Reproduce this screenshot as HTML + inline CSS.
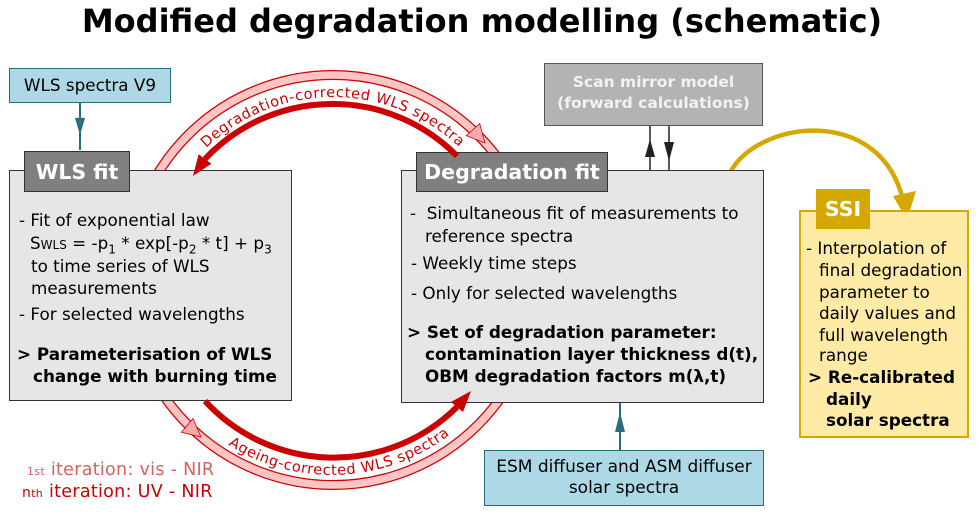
<!DOCTYPE html>
<html><head><meta charset="utf-8">
<style>
*{margin:0;padding:0;box-sizing:border-box}
body{width:978px;height:515px;background:#fff;position:relative;overflow:hidden;font-family:"DejaVu Sans","Liberation Sans",sans-serif;color:#000}
.a{position:absolute;white-space:nowrap}
.box{position:absolute;border:1.5px solid #333}
.t{position:absolute;white-space:nowrap;font-size:16.8px;line-height:20px}
.b{font-weight:bold}
.hdr{position:absolute;background:#808080;border:1.5px solid #333;color:#fff;font-weight:bold;font-size:20.5px;display:flex;align-items:center;justify-content:center}
svg{position:absolute;left:0;top:0}
</style></head><body>
<div class="a b" style="left:-7px;width:978px;top:0px;text-align:center;font-size:32px;line-height:42px">Modified degradation modelling (schematic)</div>

<svg width="978" height="515">
  <circle cx="333" cy="280" r="205" fill="none" stroke="#c00" stroke-width="10"/>
  <circle cx="333" cy="280" r="205" fill="none" stroke="#ffc4c4" stroke-width="7.5"/>
  <polygon points="485,143 479.7,123.6 466.3,135.6" fill="#ffaaaa" stroke="#c00" stroke-width="0.8"/>
  <polygon points="201,437 193,418.5 181.4,432.3" fill="#ffaaaa" stroke="#c00" stroke-width="0.8"/>
  <defs>
    <path id="tp" d="M 174,189 A 184 184 0 0 1 492,188"/>
    <path id="bp" d="M 200,423 A 193 193 0 0 0 476,410"/>
  </defs>
  <text font-size="14.5" fill="#c00" font-family="DejaVu Sans, sans-serif" letter-spacing="0.6"><textPath href="#tp" startOffset="50%" text-anchor="middle">Degradation-corrected WLS spectra</textPath></text>
  <text font-size="14.5" fill="#c00" font-family="DejaVu Sans, sans-serif" letter-spacing="0.6"><textPath href="#bp" startOffset="50%" text-anchor="middle">Ageing-corrected WLS spectra</textPath></text>
</svg>

<svg width="978" height="515">
  <line x1="80" y1="102" x2="80" y2="150" stroke="#2a6e7c" stroke-width="2"/>
  <polygon points="75,118 85,118 80,135" fill="#2a6e7c"/>
  <line x1="620" y1="402" x2="620" y2="450" stroke="#2a6e7c" stroke-width="2"/>
  <polygon points="615,432 625,432 620,412" fill="#2a6e7c"/>
  <line x1="650" y1="125" x2="650" y2="171" stroke="#222" stroke-width="1.5"/>
  <polygon points="645,157 655,157 650,139" fill="#222"/>
  <line x1="669" y1="125" x2="669" y2="171" stroke="#222" stroke-width="1.5"/>
  <polygon points="664,142 674,142 669,161" fill="#222"/>
  <path d="M 731,171 C 760,120 880,105 903,200" fill="none" stroke="#d4a800" stroke-width="4.5"/>
  <polygon points="893,196 916,191 907,220" fill="#d4a800"/>
</svg>

<div class="box" style="left:9px;top:68px;width:162px;height:35px;background:#add8e6;border-color:#2a6e7c"></div>
<div class="t" style="left:9px;width:162px;top:75px;text-align:center">WLS spectra V9</div>

<div class="box" style="left:9px;top:170px;width:283px;height:231px;background:#e6e6e6"></div>
<div class="hdr" style="left:24px;top:151px;width:106px;height:41px">WLS fit</div>
<div class="t" style="left:19px;top:210px">- Fit of exponential law</div>
<div class="t" style="left:30px;top:233px">S<span style="font-size:12px">WLS</span> = -p<sub style="font-size:12px">1</sub> * exp[-p<sub style="font-size:12px">2</sub> * t] + p<sub style="font-size:12px">3</sub></div>
<div class="t" style="left:31px;top:256px">to time series of WLS</div>
<div class="t" style="left:31px;top:278px">measurements</div>
<div class="t" style="left:19px;top:304px">- For selected wavelengths</div>
<div class="t b" style="left:17px;top:344px">&gt; Parameterisation of WLS</div>
<div class="t b" style="left:33px;top:366px">change with burning time</div>

<div class="box" style="left:544px;top:63px;width:219px;height:63px;background:#b3b3b3;border-color:#555"></div>
<div class="t b" style="left:544px;width:219px;top:72px;text-align:center;color:#f2f2f2;font-size:15.5px;line-height:21px">Scan mirror model<br>(forward calculations)</div>

<div class="box" style="left:401px;top:170px;width:363px;height:233px;background:#e6e6e6"></div>
<div class="hdr" style="left:416px;top:152px;width:192px;height:40px">Degradation fit</div>
<div class="t" style="left:410px;top:203px">- &nbsp;Simultaneous fit of measurements to</div>
<div class="t" style="left:425px;top:226px">reference spectra</div>
<div class="t" style="left:411px;top:253px">- Weekly time steps</div>
<div class="t" style="left:411px;top:283px">- Only for selected wavelengths</div>
<div class="t b" style="left:407px;top:322px">&gt; Set of degradation parameter:</div>
<div class="t b" style="left:425px;top:344px">contamination layer thickness d(t),</div>
<div class="t b" style="left:425px;top:366px">OBM degradation factors m(λ,t)</div>

<div class="box" style="left:484px;top:450px;width:280px;height:56px;background:#add8e6;border-color:#2a6e7c"></div>
<div class="t" style="left:484px;width:280px;top:457px;text-align:center;line-height:21px;font-size:17px">ESM diffuser and ASM diffuser<br>solar spectra</div>

<div class="box" style="left:799px;top:210px;width:170px;height:228px;background:#ffeaa6;border:2px solid #d4a800"></div>
<div class="hdr" style="left:816px;top:189px;width:54px;height:40px;background:#d4a800;border-color:#d4a800">SSI</div>
<div class="t" style="left:806px;top:238px">- Interpolation of</div>
<div class="t" style="left:819px;top:260px">final degradation</div>
<div class="t" style="left:819px;top:282px">parameter to</div>
<div class="t" style="left:819px;top:303px">daily values and</div>
<div class="t" style="left:819px;top:325px">full wavelength</div>
<div class="t" style="left:819px;top:345px">range</div>
<div class="t b" style="left:808px;top:367px">&gt; Re-calibrated</div>
<div class="t b" style="left:826px;top:389px">daily</div>
<div class="t b" style="left:826px;top:410px">solar spectra</div>

<svg width="978" height="515">
  <path d="M 457,156 A 175 175 0 0 0 205,159" fill="none" stroke="#c00" stroke-width="6"/>
  <polygon points="193,176 211.4,163.8 198.6,154.2" fill="#c00"/>
  <path d="M 205,401 A 175 175 0 0 0 457,407" fill="none" stroke="#c00" stroke-width="6"/>
  <polygon points="471,391 463,412 451,402" fill="#c00"/>
</svg>

<div class="t" style="left:27px;top:460px;color:#d96060;font-size:17.5px;letter-spacing:0.3px"><span style="font-size:11px">1st</span> iteration: vis - NIR</div>
<div class="t" style="left:22px;top:482px;color:#c00;font-size:17.5px;letter-spacing:0.3px"><span style="font-size:14px">n<span style="font-size:11px">th</span></span> iteration: UV - NIR</div>
</body></html>
